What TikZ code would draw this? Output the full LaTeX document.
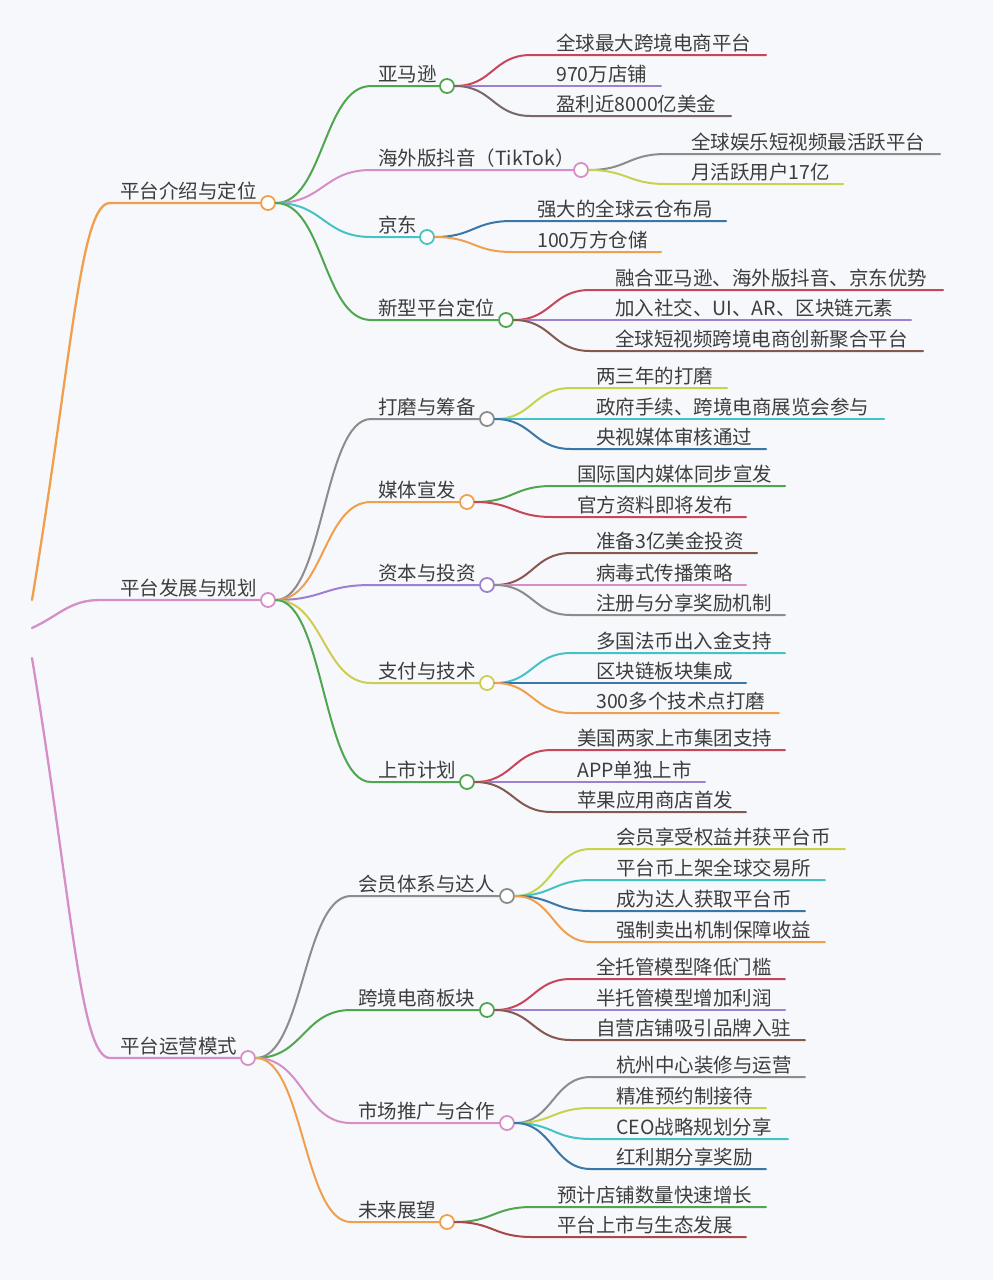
\documentclass[tikz,border=0pt]{standalone}
\usepackage{fontspec}
\setmainfont{Noto Sans CJK SC}
\usetikzlibrary{calc}
\definecolor{bg}{HTML}{F7F8FC}
\definecolor{textc}{HTML}{3D3D3D}
\definecolor{cOrange}{HTML}{F0A04C}
\definecolor{cPink}{HTML}{D68FC6}
\definecolor{cGreen}{HTML}{4FA64F}
\definecolor{cCyan}{HTML}{45C2C6}
\definecolor{cRed}{HTML}{C8465A}
\definecolor{cPurple}{HTML}{9E80D0}
\definecolor{cGreyBrown}{HTML}{7B676B}
\definecolor{cGrey}{HTML}{8C8C8C}
\definecolor{cYG}{HTML}{C6D44C}
\definecolor{cBlue}{HTML}{3A76A6}
\definecolor{cBrown}{HTML}{85594F}
\definecolor{cYellow}{HTML}{CDCC55}
\definecolor{cRedBrown}{HTML}{A8484A}
\tikzset{
  txt/.style={anchor=base west, inner sep=0pt, text=textc, font=\fontsize{19.5}{23}\selectfont},
  dot/.style={circle, fill=white, line width=1.8pt, minimum size=14pt, inner sep=0pt},
  link/.style={line width=2pt, line cap=round},
  linkone/.style={line width=2.3pt, line cap=round}
}
\newcommand{\mmnode}[7]{%
  \node[txt] (#1t) at (#3,#4-5) {#7};
  \node[dot,draw=#6] (#1) at (#5,#4) {};
  \coordinate (#1s) at (#3-7,#4);
  \draw[link,#6] (#2.east) .. controls ($(#2.east)!0.5!(#2.east -| #1s)$) and ($(#1s)!0.5!(#1s -| #2.east)$) .. (#1s) -- (#1.west);
}
\newcommand{\mmleaf}[7]{%
  \node[txt] (#1) at (#3,#4-5) {#7};
  \coordinate (#1s) at (#3-25,#4);
  \coordinate (#1e) at (#5,#4);
  \draw[link,#6] (#2.east) .. controls ($(#2.east)!0.5!(#2.east -| #1s)$) and ($(#1s)!0.5!(#1s -| #2.east)$) .. (#1s) -- (#1e);
}
\begin{document}
\begin{tikzpicture}[x=1pt,y=-1pt]
\fill[bg] (0,0) rectangle (993,1280);
\useasboundingbox (0,0) rectangle (993,1280);

% ---------- level 1 ----------
\coordinate (rA) at (32,600);
\coordinate (rB) at (32,628);
\coordinate (rC) at (32,658);
\coordinate (Ah) at (110,203);
\coordinate (Bh) at (100,600);
\coordinate (Ch) at (110,1058);
\node[txt] (At) at (120,198) {平台介绍与定位};
\node[dot,draw=cOrange] (A) at (268,203) {};
\node[txt] (Bt) at (120,595) {平台发展与规划};
\node[dot,draw=cPink] (B) at (268,600) {};
\node[txt] (Ct) at (120,1053) {平台运营模式};
\node[dot,draw=cPink] (C) at (248,1058) {};
\draw[linkone,cOrange] (rA) .. controls (72,358) and (80,203) .. (Ah) -- (A.west);
\draw[linkone,cPink] (rB) .. controls (60,615) and (70,600) .. (Bh) -- (B.west);
\draw[linkone,cPink] (rC) .. controls (72,900) and (80,1058) .. (Ch) -- (C.west);

% ---------- 平台介绍与定位 ----------
\mmnode{A1}{A}{378}{86}{447}{cGreen}{亚马逊}
\mmnode{A2}{A}{378}{170}{581}{cPink}{海外版抖音（TikTok）}
\mmnode{A3}{A}{378}{237}{427}{cCyan}{京东}
\mmnode{A4}{A}{378}{320}{506}{cGreen}{新型平台定位}

\mmleaf{A11}{A1}{556}{55}{766}{cRed}{全球最大跨境电商平台}
\mmleaf{A12}{A1}{556}{86}{661}{cPurple}{970万店铺}
\mmleaf{A13}{A1}{556}{116}{731}{cGreyBrown}{盈利近8000亿美金}

\mmleaf{A21}{A2}{691}{154}{940}{cGrey}{全球娱乐短视频最活跃平台}
\mmleaf{A22}{A2}{691}{184}{843}{cYG}{月活跃用户17亿}

\mmleaf{A31}{A3}{537}{221}{726}{cBlue}{强大的全球云仓布局}
\mmleaf{A32}{A3}{537}{252}{661}{cOrange}{100万方仓储}

\mmleaf{A41}{A4}{615}{290}{943}{cRed}{融合亚马逊、海外版抖音、京东优势}
\mmleaf{A42}{A4}{615}{320}{911}{cPurple}{加入社交、UI、AR、区块链元素}
\mmleaf{A43}{A4}{615}{351}{923}{cBrown}{全球短视频跨境电商创新聚合平台}

% ---------- 平台发展与规划 ----------
\mmnode{B1}{B}{378}{419}{487}{cGrey}{打磨与筹备}
\mmnode{B2}{B}{378}{502}{467}{cOrange}{媒体宣发}
\mmnode{B3}{B}{378}{585}{487}{cPurple}{资本与投资}
\mmnode{B4}{B}{378}{683}{487}{cYellow}{支付与技术}
\mmnode{B5}{B}{378}{782}{467}{cGreen}{上市计划}

\mmleaf{B11}{B1}{596}{388}{727}{cYG}{两三年的打磨}
\mmleaf{B12}{B1}{596}{419}{884}{cCyan}{政府手续、跨境电商展览会参与}
\mmleaf{B13}{B1}{596}{449}{766}{cBlue}{央视媒体审核通过}

\mmleaf{B21}{B2}{577}{486}{785}{cGreen}{国际国内媒体同步宣发}
\mmleaf{B22}{B2}{577}{517}{746}{cRed}{官方资料即将发布}

\mmleaf{B31}{B3}{596}{553}{757}{cBrown}{准备3亿美金投资}
\mmleaf{B32}{B3}{596}{585}{746}{cPink}{病毒式传播策略}
\mmleaf{B33}{B3}{596}{615}{785}{cGrey}{注册与分享奖励机制}

\mmleaf{B41}{B4}{596}{653}{785}{cCyan}{多国法币出入金支持}
\mmleaf{B42}{B4}{596}{683}{746}{cBlue}{区块链板块集成}
\mmleaf{B43}{B4}{596}{713}{779}{cOrange}{300多个技术点打磨}

\mmleaf{B51}{B5}{577}{750}{785}{cRed}{美国两家上市集团支持}
\mmleaf{B52}{B5}{577}{782}{705}{cPurple}{APP单独上市}
\mmleaf{B53}{B5}{577}{812}{746}{cBrown}{苹果应用商店首发}

% ---------- 平台运营模式 ----------
\mmnode{C1}{C}{358}{896}{507}{cGrey}{会员体系与达人}
\mmnode{C2}{C}{358}{1010}{487}{cGreen}{跨境电商板块}
\mmnode{C3}{C}{358}{1123}{507}{cPink}{市场推广与合作}
\mmnode{C4}{C}{358}{1222}{447}{cOrange}{未来展望}

\mmleaf{C11}{C1}{616}{849}{845}{cYG}{会员享受权益并获平台币}
\mmleaf{C12}{C1}{616}{880}{825}{cCyan}{平台币上架全球交易所}
\mmleaf{C13}{C1}{616}{911}{805}{cBlue}{成为达人获取平台币}
\mmleaf{C14}{C1}{616}{942}{825}{cOrange}{强制卖出机制保障收益}

\mmleaf{C21}{C2}{596}{979}{785}{cRed}{全托管模型降低门槛}
\mmleaf{C22}{C2}{596}{1010}{785}{cPurple}{半托管模型增加利润}
\mmleaf{C23}{C2}{596}{1040}{805}{cBrown}{自营店铺吸引品牌入驻}

\mmleaf{C31}{C3}{616}{1077}{805}{cGrey}{杭州中心装修与运营}
\mmleaf{C32}{C3}{616}{1108}{766}{cYG}{精准预约制接待}
\mmleaf{C33}{C3}{616}{1139}{788}{cCyan}{CEO战略规划分享}
\mmleaf{C34}{C3}{616}{1169}{766}{cBlue}{红利期分享奖励}

\mmleaf{C41}{C4}{557}{1207}{766}{cGreen}{预计店铺数量快速增长}
\mmleaf{C42}{C4}{557}{1237}{746}{cRedBrown}{平台上市与生态发展}
\end{tikzpicture}
\end{document}
